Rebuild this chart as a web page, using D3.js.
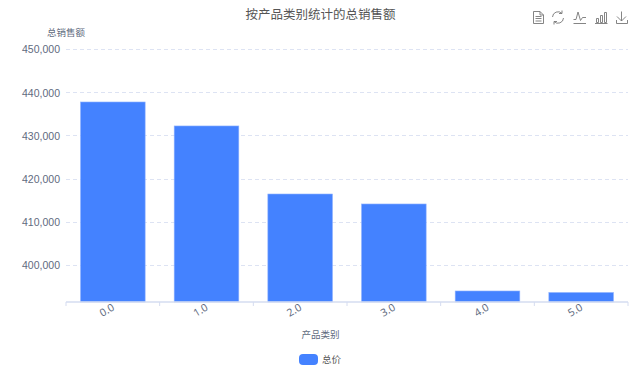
<!DOCTYPE html>
<html>
<head>
<meta charset="utf-8">
<script src="https://cdn.jsdelivr.net/npm/d3@7"></script>
<style>
html, body { margin: 0; padding: 0; background: #fff; }
svg { display: block; font-family: "Noto Sans", "Noto Sans CJK SC", sans-serif; }
</style>
</head>
<body>
<svg id="chart" width="640" height="372"></svg>
<script>
const categories = ['0.0', '1.0', '2.0', '3.0', '4.0', '5.0']
const totals = [437850, 432300, 416550, 414240, 394100, 393750]
const yTicks = [400000, 410000, 420000, 430000, 440000, 450000]
const yMin = 391550
const yMax = 450000

const BLUE = '#4482ff'
const AXIS_TEXT = '#5f6b80'
const SPLIT = '#dde3f3'
const AXIS_LINE = '#d5dcf0'

const svg = d3.select('#chart')
const leftX = 66, rightX = 628, topY = 49.5, bottomY = 302

const x = d3.scaleBand().domain(categories).range([leftX, rightX]).paddingInner(0.31).paddingOuter(0.155)
const y = d3.scaleLinear().domain([yMin, yMax]).range([bottomY, topY])

// split lines
svg.append('g').selectAll('line')
    .data(yTicks)
    .join('line')
    .attr('x1', leftX)
    .attr('x2', rightX)
    .attr('y1', d => Math.floor(y(d)) + 0.5)
    .attr('y2', d => Math.floor(y(d)) + 0.5)
    .attr('stroke', SPLIT)
    .attr('stroke-dasharray', '4 3')

// bars
svg.append('g').selectAll('rect')
    .data(totals)
    .join('rect')
    .attr('x', (d, i) => x(categories[i]))
    .attr('y', d => y(d))
    .attr('width', x.bandwidth())
    .attr('height', d => bottomY - y(d))
    .attr('fill', BLUE)
    .attr('stroke', '#8fb2ff')
    .attr('stroke-width', 0.6)

// y axis
const axisY = svg.append('g')
    .attr('transform', `translate(${leftX}, 0)`)
    .call(d3.axisLeft(y).tickValues(yTicks).tickSize(0).tickPadding(6).tickFormat(d3.format(',')))
axisY.select('.domain').remove()
axisY.selectAll('text')
    .attr('fill', AXIS_TEXT)
    .style('font-size', '10.5px')

// x axis
const step = x.step()
const axisX = svg.append('g')
    .attr('transform', `translate(0, ${bottomY})`)
axisX.append('line')
    .attr('x1', leftX)
    .attr('x2', rightX)
    .attr('stroke', AXIS_LINE)
    .attr('stroke-width', 1.5)
axisX.selectAll('.edge')
    .data(d3.range(categories.length + 1))
    .join('line')
    .attr('class', 'edge')
    .attr('x1', d => leftX + d * step)
    .attr('x2', d => leftX + d * step)
    .attr('y1', 0)
    .attr('y2', 4)
    .attr('stroke', AXIS_LINE)
axisX.selectAll('text')
    .data(categories)
    .join('text')
    .attr('transform', d => `translate(${x(d) + x.bandwidth() / 2 - 6}, 8) rotate(-30)`)
    .attr('text-anchor', 'middle')
    .attr('dy', '0.35em')
    .attr('fill', AXIS_TEXT)
    .style('font-size', '10.5px')
    .text(d => d)

// titles
svg.append('text')
    .attr('x', 320.5)
    .attr('y', 19)
    .attr('text-anchor', 'middle')
    .attr('fill', '#555')
    .style('font-size', '12.5px')
    .text('按产品类别统计的总销售额')
svg.append('text')
    .attr('x', 66)
    .attr('y', 36)
    .attr('text-anchor', 'middle')
    .attr('fill', AXIS_TEXT)
    .style('font-size', '9.5px')
    .text('总销售额')
svg.append('text')
    .attr('x', 320.5)
    .attr('y', 338)
    .attr('text-anchor', 'middle')
    .attr('fill', AXIS_TEXT)
    .style('font-size', '9.5px')
    .text('产品类别')

// legend
svg.append('rect')
    .attr('x', 299)
    .attr('y', 354)
    .attr('width', 19)
    .attr('height', 11)
    .attr('rx', 4)
    .attr('fill', BLUE)
svg.append('text')
    .attr('x', 322)
    .attr('y', 363)
    .attr('fill', '#555')
    .style('font-size', '9.5px')
    .text('总价')

// toolbox icons
const icons = [
    'M533.5 11.5H540L543.5 15V23.5H533.5ZM540 11.5V15H543.5M535.5 16.5H541.5M535.5 18.5H541.5M535.5 21H541.5',
    'M552.5 17A5.5 5.5 0 0 1 562 13.5M562 13.5V10.5M562 13.5H559M563.5 18A5.5 5.5 0 0 1 554 21.5M554 21.5V24.5M554 21.5H557',
    'M573.5 19.5H576L578 12L580.5 20.5L582.5 17.5H586M573.5 23.5H586',
    'M596.5 22.5V18.5H598.5V22.5ZM600.5 22.5V15.5H602.5V22.5ZM604.5 22.5V12.5H606.5V22.5ZM595 23.5H607.5',
    'M621.5 11.5V21M617 16.5L621.5 21L626 16.5M616.5 20V23.5H627.5V20'
]
svg.append('g').selectAll('path')
    .data(icons)
    .join('path')
    .attr('d', d => d)
    .attr('fill', 'none')
    .attr('stroke', '#777')
    .attr('stroke-width', 0.9)
</script>
</body>
</html>
